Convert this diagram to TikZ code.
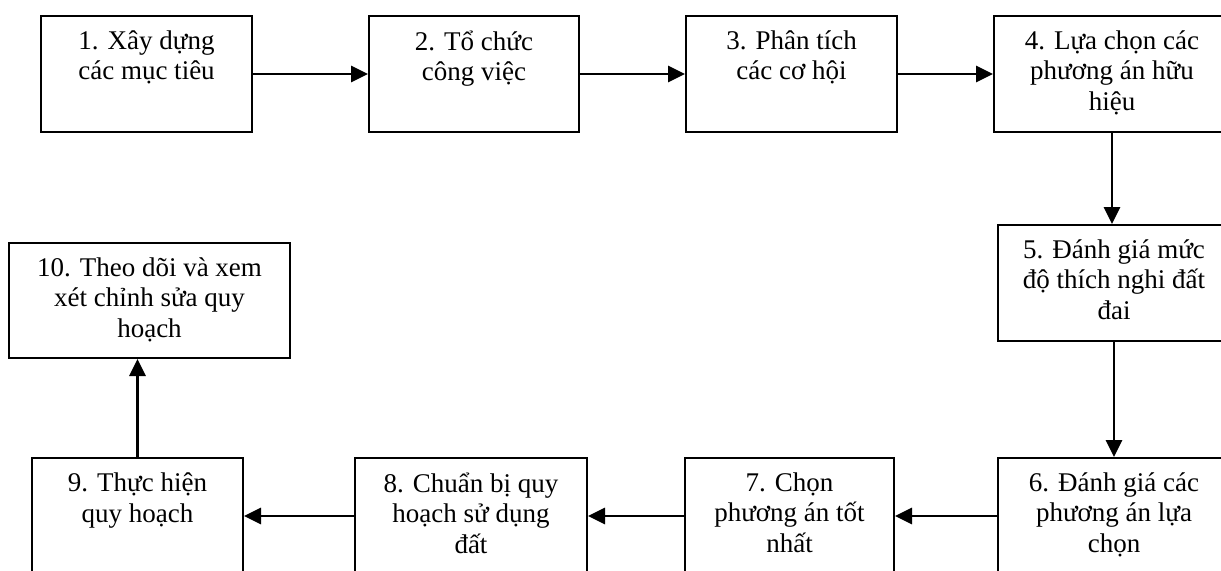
\documentclass[tikz,border=0pt]{standalone}
\usepackage{fontspec}
\setmainfont{Liberation Serif}
\usetikzlibrary{positioning, arrows.meta}
\tikzset{
    stepbox/.style = {draw, line width = 1pt, inner sep = 0pt, minimum height = 58pt},
    steptext/.style = {align = center, inner sep = 0pt, font = \fontsize{13.5}{15.3}\selectfont, execute at begin node = \strut},
    flow/.style = {line width = 1.4pt, -{Triangle[length = 8.5pt, width = 8pt]}}
}

\begin{document}
\begin{tikzpicture}[x = 0.5pt, y = -0.5pt]
    \useasboundingbox (0, 0) rectangle (1221, 570);

    % draw top row
    \node[stepbox, minimum width = 105.5pt] (s1) at (146.5, 74) {};
    \node[stepbox, minimum width = 105pt] (s2) at (474, 74) {};
    \node[stepbox, minimum width = 105.5pt] (s3) at (791.5, 74) {};
    \node[stepbox, minimum width = 118pt] (s4) at (1112, 74) {};

    \node[steptext, below = 7.6pt of s1.north] (t1) {1. Xây dựng\\các mục tiêu};
    \node[steptext, below = 7.6pt of s2.north] (t2) {2. Tổ chức\\công việc};
    \node[steptext, below = 7.6pt of s3.north] (t3) {3. Phân tích\\các cơ hội};
    \node[steptext, below = 7.6pt of s4.north] (t4) {4. Lựa chọn các\\phương án hữu\\hiệu};


    % draw right column
    \node[stepbox, minimum width = 116pt] (s5) at (1114, 283) {};
    \node[steptext, below = 7.6pt of s5.north] (t5) {5. Đánh giá mức\\độ thích nghi đất\\đai};


    % draw bottom row
    \node[stepbox, minimum width = 116pt] (s6) at (1114, 516) {};
    \node[stepbox, minimum width = 104.5pt] (s7) at (789.5, 516) {};
    \node[stepbox, minimum width = 116pt] (s8) at (471, 516) {};
    \node[stepbox, minimum width = 105.5pt] (s9) at (137.5, 516) {};

    \node[steptext, below = 7.6pt of s6.north] (t6) {6. Đánh giá các\\phương án lựa\\chọn};
    \node[steptext, below = 7.6pt of s7.north] (t7) {7. Chọn\\phương án tốt\\nhất};
    \node[steptext, below = 7.6pt of s8.north] (t8) {8. Chuẩn bị quy\\hoạch sử dụng\\đất};
    \node[steptext, below = 7.6pt of s9.north] (t9) {9. Thực hiện\\quy hoạch};


    % draw left column
    \node[stepbox, minimum width = 140.5pt, minimum height = 57.5pt] (s10) at (149.5, 300.5) {};
    \node[steptext, below = 7.6pt of s10.north] (t10) {10. Theo dõi và xem\\xét chỉnh sửa quy\\hoạch};


    % draw arrows
    \draw[flow] (s1) -- (s2);
    \draw[flow] (s2) -- (s3);
    \draw[flow] (s3) -- (s4);
    \draw[flow] (s4.south) -- (s4.south |- s5.north);
    \draw[flow] (s5.south) -- (s5.south |- s6.north);
    \draw[flow] (s6) -- (s7);
    \draw[flow] (s7) -- (s8);
    \draw[flow] (s8) -- (s9);
    \draw[flow] (s9.north) -- (s9.north |- s10.south);
\end{tikzpicture}
\end{document}
